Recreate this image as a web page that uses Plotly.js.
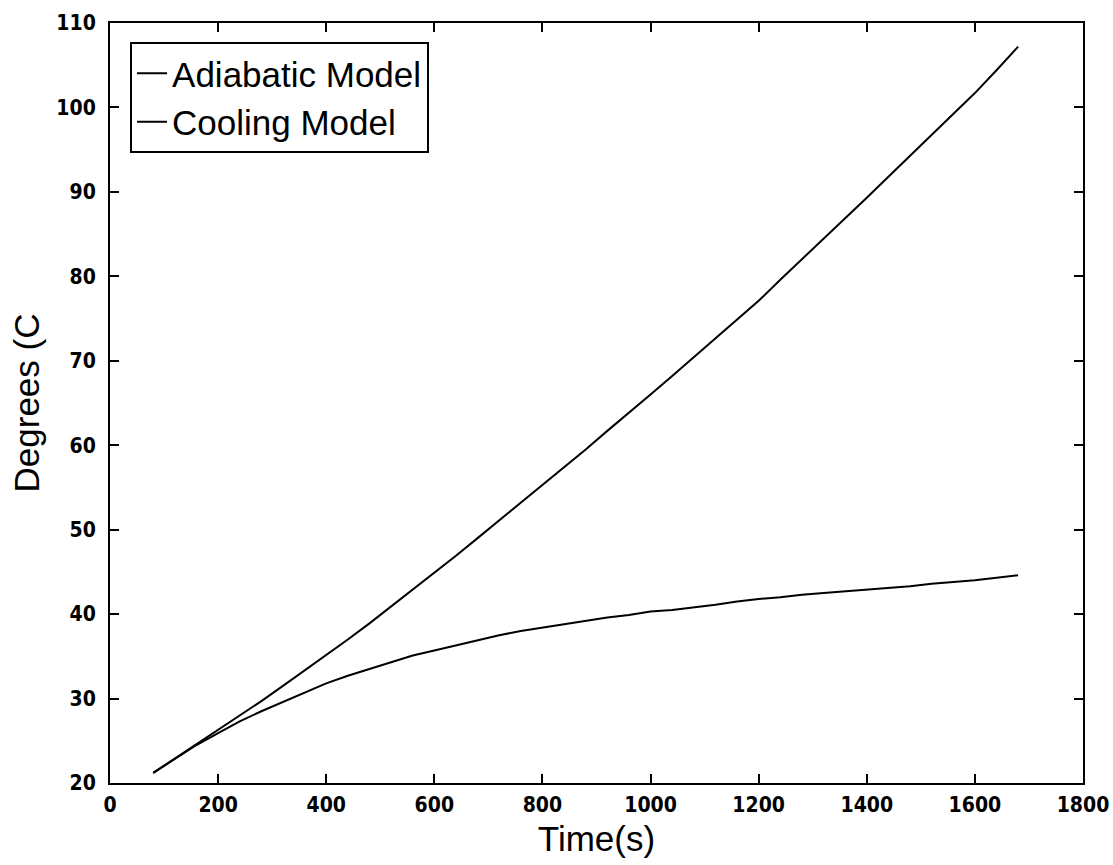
<!DOCTYPE html>
<html>
<head>
<meta charset="utf-8">
<script src="https://cdn.plot.ly/plotly-3.0.1.min.js"></script>
<style>html,body{margin:0;padding:0;background:#fff;}#chart{width:1113px;height:865px;}</style>
</head>
<body>
<div id="chart"></div>
<script>
// Time (s)
const timeS = [80,120,160,200,240,280,320,360,400,440,480,520,560,600,640,680,720,760,800,840,880,920,960,1000,1040,1080,1120,1160,1200,1240,1280,1320,1360,1400,1440,1480,1520,1560,1600,1640,1680];
// Adiabatic Model (deg C)
const adiabatic = [21.2,22.9,24.6,26.2,27.9,29.7,31.5,33.3,35.2,37.0,38.9,40.9,42.8,44.8,46.9,49.0,51.1,53.1,55.2,57.4,59.5,61.7,63.8,66.0,68.2,70.4,72.6,74.9,77.1,79.6,82.0,84.4,86.9,89.3,91.8,94.3,96.8,99.3,101.7,104.4,107.2];
// Cooling Model (deg C)
const cooling = [21.2,22.8,24.5,25.9,27.3,28.5,29.6,30.7,31.8,32.7,33.5,34.3,35.1,35.7,36.3,36.9,37.5,38.0,38.4,38.8,39.2,39.6,39.9,40.3,40.5,40.8,41.1,41.5,41.8,42.0,42.3,42.5,42.7,42.9,43.1,43.3,43.6,43.8,44.0,44.3,44.6];
const seriesNames = ["Adiabatic Model","Cooling Model"];
const xTicks = [0,200,400,600,800,1000,1200,1400,1600,1800];
const yTicks = [20,30,40,50,60,70,80,90,100,110];

const tickFont = {family:"DejaVu Sans Condensed, Liberation Sans Narrow, sans-serif", size:21, color:"#000", weight:"bold"};
const titleFont = {family:"Liberation Sans, Arial, sans-serif", size:35, color:"#000"};

const traces = [
  {x: timeS, y: adiabatic, name: seriesNames[0], mode:"lines", line:{color:"#000", width:2}, legendgroup:"a"},
  {x: timeS, y: cooling, name: seriesNames[1], mode:"lines", line:{color:"#000", width:2}, legendgroup:"b"}
];

const axisCommon = {
  showline:true, linecolor:"#000", linewidth:2, mirror:"ticks",
  ticks:"inside", ticklen:9, tickwidth:2, tickcolor:"#000",
  showgrid:false, zeroline:false, tickfont: tickFont
};

const layout = {
  width:1113, height:865,
  margin:{l:110, r:30, t:23, b:82},
  paper_bgcolor:"#fff", plot_bgcolor:"#fff",
  showlegend:true,
  legend:{x:0.0206, y:0.975, xanchor:"left", yanchor:"top",
    bordercolor:"#000", borderwidth:2, bgcolor:"#fff",
    font:{family:"Liberation Sans, Arial, sans-serif", size:35, color:"#000"},
    traceorder:"grouped", tracegroupgap:0},
  xaxis: Object.assign({}, axisCommon, {range:[0,1800], tickvals:xTicks, ticktext:xTicks.map(String),
    ticklabelstandoff:2,
    title:{text:"Time(s)", font:titleFont, standoff:10}}),
  yaxis: Object.assign({}, axisCommon, {range:[20,110], tickvals:yTicks, ticktext:yTicks.map(String),
    ticklabelstandoff:8,
    title:{text:"Degrees (C", font:titleFont, standoff:6}})
};

Plotly.newPlot("chart", traces, layout, {displayModeBar:false, staticPlot:true});
</script>
</body>
</html>
